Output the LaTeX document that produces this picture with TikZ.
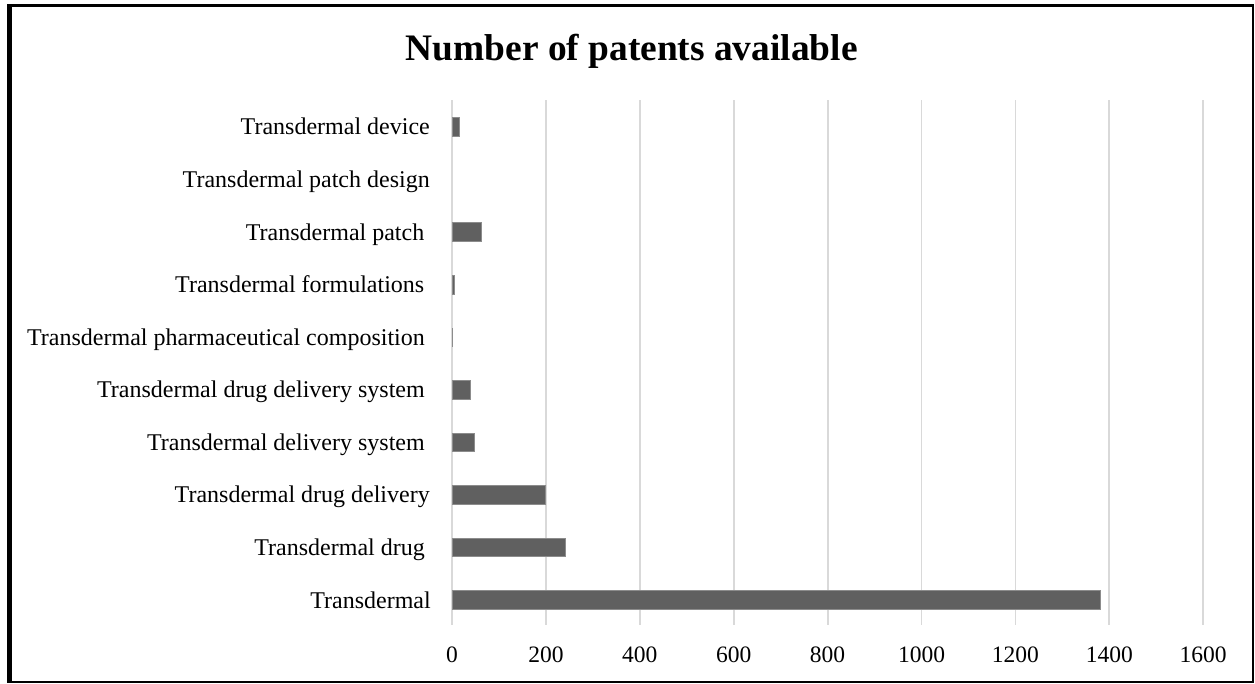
\documentclass[tikz,border=0pt]{standalone}
\usepackage{fontspec}
\setmainfont{Liberation Serif}
\definecolor{barfill}{HTML}{606060}
\definecolor{baredge}{HTML}{8C8C8C}
\definecolor{gridc}{HTML}{D9D9D9}
\begin{document}
\begin{tikzpicture}[x=1pt,y=-1pt,
  lbl/.style={font=\fontsize{24}{26}\selectfont, anchor=base east, inner sep=0pt},
  ticklbl/.style={font=\fontsize{23.5}{26}\selectfont, anchor=base, inner sep=0pt},
  gridline/.style={draw=gridc, line width=1.8pt},
  barbox/.style={fill=barfill, draw=baredge, line width=0.7pt},
  titlelbl/.style={font=\bfseries\fontsize{37.4}{40}\selectfont, anchor=base, inner sep=0pt}]
\useasboundingbox (0,0) rectangle (1255,683);
% frame
\fill[black] (7,4) rectangle (1254,7);
\fill[black] (7,4) rectangle (12,683);
\draw[black, line width=1.6pt] (1253,4) -- (1253,683);
\draw[black, line width=1.6pt] (7,682) -- (1254,682);
% title
\node[titlelbl] (title) at (631.7,60) {Number of patents available};
% grid and ticks
\foreach \i in {0,...,8}{
  \pgfmathsetmacro{\gx}{452+\i*93.9}
  \pgfmathtruncatemacro{\tv}{\i*200}
  \draw[gridline] (\gx,100) -- (\gx,625);
  \node[ticklbl] (tick\i) at (\gx,662) {\tv};
}
% bars and labels
\foreach \idx/\val/\lx/\txt in {
  9/15.5/430/Transdermal device,
  8/0/430/Transdermal patch design,
  7/62/424.5/Transdermal patch,
  6/6/424.5/Transdermal formulations,
  5/1/425/Transdermal pharmaceutical composition,
  4/38/425/Transdermal drug delivery system,
  3/47.5/425/Transdermal delivery system,
  2/198/430/Transdermal drug delivery,
  1/241/425/Transdermal drug,
  0/1381/431/Transdermal}{
  \pgfmathsetmacro{\cy}{600-\idx*52.57}
  \node[lbl] (lab\idx) at (\lx,\cy+8) {\txt};
  \pgfmathsetmacro{\bx}{452+\val*0.4696}
  \ifdim\val pt>0pt
    \draw[barbox] (452,\cy-9.3) rectangle (\bx,\cy+9.3);
  \fi
}
\end{tikzpicture}
\end{document}
